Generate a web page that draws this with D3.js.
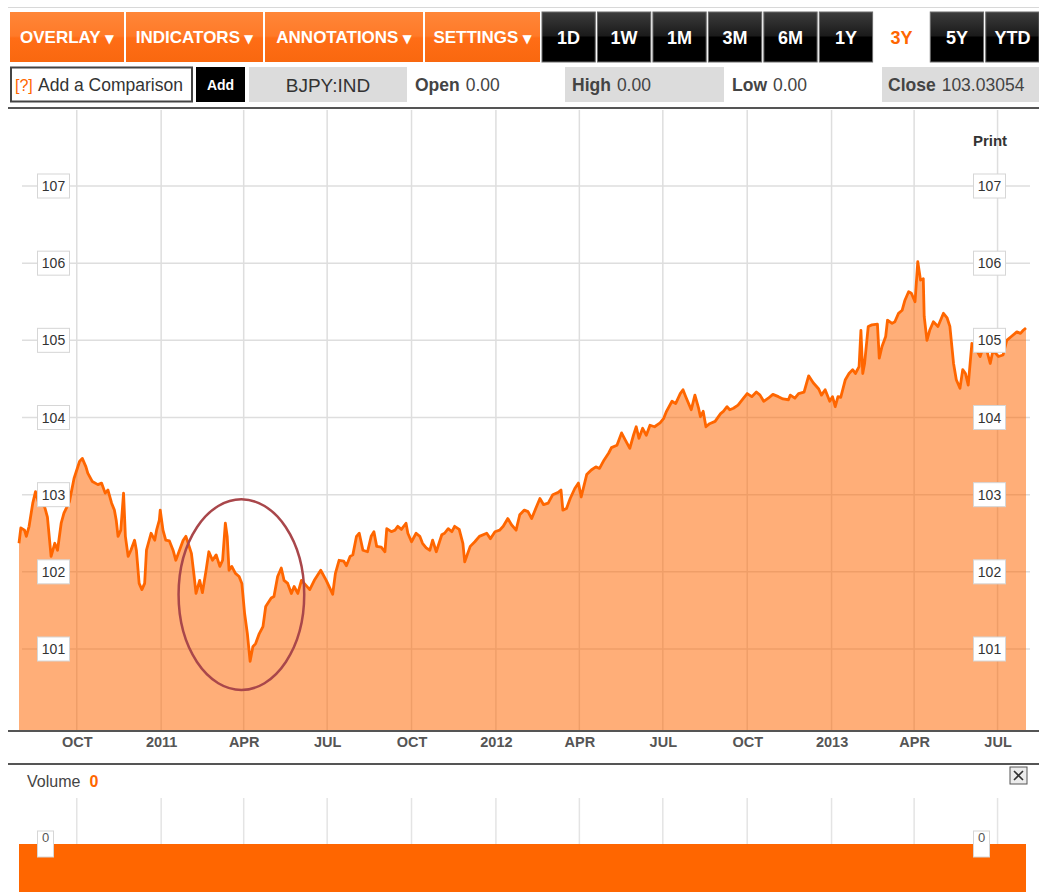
<!DOCTYPE html>
<html>
<head>
<meta charset="utf-8">
<script src="https://cdn.jsdelivr.net/npm/d3@7"></script>
<style>
body { margin: 0; background: #fff; }
svg { display: block; font-family: "Liberation Sans", Arial, sans-serif; }
</style>
</head>
<body>
<div id="chart"></div>
<script>
// BJPY:IND, 3 year view
var dates = [
  "2010-07-30","2010-08-01","2010-08-05","2010-08-07","2010-08-10","2010-08-14","2010-08-17","2010-08-20","2010-08-27","2010-08-30",
  "2010-09-03","2010-09-07","2010-09-10","2010-09-14","2010-09-17","2010-09-23","2010-09-28","2010-10-04","2010-10-07","2010-10-11",
  "2010-10-13","2010-10-18","2010-10-24","2010-10-28","2010-11-01","2010-11-04","2010-11-08","2010-11-11","2010-11-13","2010-11-15",
  "2010-11-18","2010-11-21","2010-11-23","2010-11-26","2010-11-29","2010-12-03","2010-12-05","2010-12-08","2010-12-11","2010-12-14",
  "2010-12-16","2010-12-21","2010-12-25","2010-12-27","2010-12-30","2010-12-31","2011-01-03","2011-01-06","2011-01-10","2011-01-14",
  "2011-01-17","2011-01-21","2011-01-25","2011-01-28","2011-02-03","2011-02-06","2011-02-08","2011-02-12","2011-02-15","2011-02-19",
  "2011-02-22","2011-02-26","2011-03-02","2011-03-06","2011-03-09","2011-03-12","2011-03-14","2011-03-16","2011-03-19","2011-03-23",
  "2011-03-27","2011-03-30","2011-04-02","2011-04-05","2011-04-08","2011-04-11","2011-04-14","2011-04-18","2011-04-22","2011-04-25",
  "2011-05-01","2011-05-04","2011-05-08","2011-05-12","2011-05-15","2011-05-19","2011-05-23","2011-05-26","2011-05-30","2011-06-03",
  "2011-06-06","2011-06-12","2011-06-17","2011-06-24","2011-06-30","2011-07-07","2011-07-10","2011-07-14","2011-07-19","2011-07-22",
  "2011-07-26","2011-07-29","2011-08-02","2011-08-05","2011-08-09","2011-08-14","2011-08-18","2011-08-21","2011-08-24","2011-08-29",
  "2011-09-02","2011-09-04","2011-09-09","2011-09-13","2011-09-16","2011-09-20","2011-09-25","2011-09-27","2011-10-01","2011-10-06",
  "2011-10-10","2011-10-13","2011-10-17","2011-10-21","2011-10-24","2011-10-28","2011-11-03","2011-11-06","2011-11-10","2011-11-14",
  "2011-11-17","2011-11-22","2011-11-26","2011-11-28","2011-12-04","2011-12-09","2011-12-14","2011-12-22","2011-12-26","2011-12-31",
  "2012-01-05","2012-01-09","2012-01-14","2012-01-18","2012-01-23","2012-01-27","2012-02-01","2012-02-05","2012-02-09","2012-02-12",
  "2012-02-18","2012-02-22","2012-02-27","2012-03-03","2012-03-09","2012-03-12","2012-03-14","2012-03-18","2012-03-22","2012-03-27",
  "2012-03-31","2012-04-03","2012-04-09","2012-04-14","2012-04-19","2012-04-23","2012-04-28","2012-05-03","2012-05-06","2012-05-12",
  "2012-05-17","2012-05-21","2012-05-26","2012-05-30","2012-06-02","2012-06-05","2012-06-09","2012-06-13","2012-06-17","2012-06-22",
  "2012-06-28","2012-07-02","2012-07-05","2012-07-11","2012-07-15","2012-07-20","2012-07-23","2012-07-26","2012-08-01","2012-08-05",
  "2012-08-09","2012-08-11","2012-08-14","2012-08-17","2012-08-21","2012-08-27","2012-09-02","2012-09-05","2012-09-09","2012-09-12",
  "2012-09-16","2012-09-21","2012-09-27","2012-10-01","2012-10-06","2012-10-11","2012-10-15","2012-10-19","2012-10-24","2012-10-29",
  "2012-11-04","2012-11-09","2012-11-15","2012-11-17","2012-11-22","2012-11-26","2012-12-02","2012-12-07","2012-12-12","2012-12-18",
  "2012-12-21","2012-12-25","2012-12-30","2013-01-02","2013-01-05","2013-01-08","2013-01-11","2013-01-16","2013-01-20","2013-01-24",
  "2013-01-27","2013-01-31","2013-02-02","2013-02-04","2013-02-06","2013-02-10","2013-02-14","2013-02-20","2013-02-22","2013-02-25",
  "2013-03-01","2013-03-03","2013-03-08","2013-03-11","2013-03-15","2013-03-19","2013-03-22","2013-03-26","2013-03-29","2013-04-02",
  "2013-04-05","2013-04-08","2013-04-11","2013-04-12","2013-04-15","2013-04-18","2013-04-22","2013-04-27","2013-05-03","2013-05-07",
  "2013-05-10","2013-05-14","2013-05-17","2013-05-21","2013-05-24","2013-05-27","2013-05-30","2013-06-03","2013-06-06","2013-06-12",
  "2013-06-17","2013-06-23","2013-06-26","2013-07-02","2013-07-07","2013-07-11","2013-07-16","2013-07-22","2013-07-26","2013-07-29",
  "2013-08-01"
];
var prices = [
  102.37,102.57,102.54,102.46,102.59,102.89,103.04,102.91,102.84,102.71,
  102.20,102.37,102.28,102.63,102.76,102.91,103.21,103.43,103.47,103.36,
  103.28,103.17,103.13,103.15,103.02,103.06,102.89,102.80,102.67,102.46,
  102.54,103.02,102.46,102.20,102.28,102.41,102.28,101.85,101.77,101.85,
  102.28,102.50,102.41,102.54,102.67,102.80,102.54,102.41,102.40,102.28,
  102.15,102.28,102.41,102.46,102.24,101.94,101.72,101.89,101.73,102.02,
  102.26,102.15,102.22,102.07,102.15,102.63,102.46,102.02,102.07,101.98,
  101.94,101.85,101.46,101.20,100.84,101.03,101.07,101.20,101.29,101.55,
  101.66,101.68,101.94,102.05,101.89,101.85,101.72,101.81,101.72,101.89,
  101.85,101.77,101.89,102.02,101.89,101.71,101.98,102.15,102.14,102.08,
  102.20,102.22,102.46,102.50,102.28,102.26,102.46,102.52,102.33,102.32,
  102.26,102.56,102.52,102.54,102.59,102.55,102.63,102.50,102.39,102.50,
  102.46,102.37,102.31,102.28,102.41,102.26,102.48,102.50,102.56,102.52,
  102.59,102.55,102.37,102.13,102.33,102.39,102.46,102.50,102.43,102.52,
  102.54,102.59,102.69,102.61,102.54,102.74,102.80,102.78,102.69,102.78,
  102.95,102.87,102.89,103.00,103.03,103.06,102.80,102.82,102.95,103.08,
  103.15,102.97,103.26,103.32,103.36,103.34,103.45,103.54,103.61,103.64,
  103.80,103.71,103.60,103.77,103.88,103.73,103.86,103.77,103.90,103.88,
  103.93,103.99,104.08,104.21,104.18,104.31,104.36,104.27,104.10,104.29,
  104.12,104.01,104.08,103.88,103.92,103.95,104.05,104.08,104.14,104.10,
  104.12,104.16,104.25,104.31,104.27,104.33,104.29,104.21,104.25,104.30,
  104.27,104.24,104.23,104.29,104.25,104.31,104.33,104.54,104.45,104.37,
  104.29,104.36,104.21,104.27,104.14,104.27,104.26,104.49,104.57,104.62,
  104.57,104.66,105.13,104.57,104.70,105.18,105.20,105.21,104.77,104.92,
  105.05,105.26,105.22,105.24,105.35,105.39,105.52,105.63,105.61,105.50,
  106.02,105.78,105.80,105.31,105.00,105.13,105.24,105.18,105.35,105.29,
  105.18,104.70,104.49,104.38,104.62,104.57,104.42,104.96,104.92,104.79,
  104.97,104.70,104.87,104.79,104.81,105.00,105.05,105.11,105.09,105.13,
  105.16
];
var priceTicks = [101, 102, 103, 104, 105, 106, 107];
var volumeDates = ["2010-07-30", "2013-08-01"];
var volumeValues = [0, 0];
var volumeTicks = [0];

var menus = ["OVERLAY", "INDICATORS", "ANNOTATIONS", "SETTINGS"];
var ranges = ["1D", "1W", "1M", "3M", "6M", "1Y", "3Y", "5Y", "YTD"];
var activeRange = "3Y";
var symbol = "BJPY:IND";
var quoteLabels = ["Open", "High", "Low", "Close"];
var quoteValues = ["0.00", "0.00", "0.00", "103.03054"];
var volumeLabel = "Volume";
var volumeNow = "0";

// hand drawn ring round the April 2011 dip
var ringDates = ["2011-01-20", "2011-06-06"];
var ringValues = [100.47, 102.94];

var W = 1039, H = 892;
var plotTop = 110, plotBottom = 730;
var volTop = 798, volBottom = 892;
var orange = "#ff6600";

var parse = d3.timeParse("%Y-%m-%d");
var series = dates.map(function (d, i) { return { date: parse(d), value: prices[i] }; });
var volSeries = volumeDates.map(function (d, i) { return { date: parse(d), value: volumeValues[i] }; });

var x = d3.scaleTime()
    .domain([parse(dates[0]), parse(dates[dates.length - 1])])
    .range([19, 1026]);
var y = d3.scaleLinear()
    .domain([101, 107])
    .range([649, 186]);
var vy = d3.scaleLinear()
    .domain([0, 1])
    .range([844, 810]);

var svg = d3.select("#chart").append("svg")
    .attr("width", W)
    .attr("height", H);

var defs = svg.append("defs");
var og = defs.append("linearGradient").attr("id", "orangeBtn").attr("x1", 0).attr("y1", 0).attr("x2", 0).attr("y2", 1);
og.append("stop").attr("offset", "0%").attr("stop-color", "#ff8638");
og.append("stop").attr("offset", "48%").attr("stop-color", "#ff7a28");
og.append("stop").attr("offset", "52%").attr("stop-color", "#ff6d16");
og.append("stop").attr("offset", "100%").attr("stop-color", "#f9680f");
var bg = defs.append("linearGradient").attr("id", "blackBtn").attr("x1", 0).attr("y1", 0).attr("x2", 0).attr("y2", 1);
bg.append("stop").attr("offset", "0%").attr("stop-color", "#3c3c3c");
bg.append("stop").attr("offset", "48%").attr("stop-color", "#1a1a1a");
bg.append("stop").attr("offset", "50%").attr("stop-color", "#000");
bg.append("stop").attr("offset", "100%").attr("stop-color", "#000");

// top rule
svg.append("line")
    .attr("x1", 8).attr("x2", W).attr("y1", 7.5).attr("y2", 7.5)
    .attr("stroke", "#d8d8d8").attr("stroke-width", 1);

// toolbar: menu buttons
var menuX = [10, 126, 265, 425];
var menuW = [114, 137, 158, 115];
var mg = svg.append("g").selectAll("g")
    .data(menus)
    .join("g")
    .attr("transform", function (d, i) { return "translate(" + menuX[i] + ",12)"; });
mg.append("rect")
    .attr("width", function (d, i) { return menuW[i]; })
    .attr("height", 50)
    .attr("fill", "url(#orangeBtn)");
mg.append("text")
    .attr("x", function (d, i) { return menuW[i] / 2; })
    .attr("y", 31)
    .attr("text-anchor", "middle")
    .attr("fill", "#fff")
    .attr("font-weight", "bold")
    .style("font-size", "17px")
    .text(function (d) { return d; })
    .append("tspan")
    .attr("dx", 4)
    .style("font-family", "'DejaVu Sans', sans-serif")
    .style("font-size", "12px")
    .text("\u25BC");

// toolbar: range buttons
var rangeX = d3.scaleBand().domain(ranges).range([542, 1039]).paddingInner(0.04);
var rg = svg.append("g").selectAll("g")
    .data(ranges)
    .join("g")
    .attr("transform", function (d) { return "translate(" + rangeX(d) + ",12)"; });
rg.append("rect")
    .attr("width", rangeX.bandwidth())
    .attr("height", 50)
    .attr("fill", function (d) { return d == activeRange ? "#fff" : "url(#blackBtn)"; })
    .attr("stroke", function (d) { return d == activeRange ? "none" : "#6a6a6a"; })
    .attr("stroke-width", 1);
rg.append("text")
    .attr("x", rangeX.bandwidth() / 2)
    .attr("y", 31.5)
    .attr("text-anchor", "middle")
    .attr("fill", function (d) { return d == activeRange ? orange : "#fff"; })
    .attr("font-weight", "bold")
    .style("font-size", "18px")
    .text(function (d) { return d; });

// second row: comparison box, symbol and quote
var row = svg.append("g").attr("transform", "translate(0,67)");
row.append("rect")
    .attr("x", 11).attr("y", 0.5).attr("width", 181).attr("height", 34)
    .attr("fill", "#fff").attr("stroke", "#444").attr("stroke-width", 2);
row.append("text")
    .attr("x", 15).attr("y", 24)
    .attr("fill", orange)
    .style("font-size", "16px")
    .text("[?]");
row.append("text")
    .attr("x", 38).attr("y", 24)
    .attr("fill", "#333")
    .style("font-size", "17.5px")
    .text("Add a Comparison");
row.append("rect")
    .attr("x", 196).attr("y", 0).attr("width", 49).attr("height", 35)
    .attr("fill", "#000");
row.append("text")
    .attr("x", 220.5).attr("y", 23)
    .attr("text-anchor", "middle")
    .attr("fill", "#fff")
    .attr("font-weight", "bold")
    .style("font-size", "14px")
    .text("Add");
row.append("rect")
    .attr("x", 249).attr("y", 0).attr("width", 158).attr("height", 35)
    .attr("fill", "#dcdcdc");
row.append("text")
    .attr("x", 328).attr("y", 25)
    .attr("text-anchor", "middle")
    .attr("fill", "#333")
    .style("font-size", "19px")
    .text(symbol);

var quoteX = [415, 572, 732, 888];
var quoteBox = [null, [565, 159], null, [882, 157]];
quoteLabels.forEach(function (lab, i) {
    if (quoteBox[i]) {
        row.append("rect")
            .attr("x", quoteBox[i][0]).attr("y", 0)
            .attr("width", quoteBox[i][1]).attr("height", 35)
            .attr("fill", "#dcdcdc");
    }
    var t = row.append("text")
        .attr("x", quoteX[i]).attr("y", 24)
        .attr("fill", "#444")
        .style("font-size", "17.5px");
    t.append("tspan").attr("font-weight", "bold").text(lab);
    t.append("tspan").attr("dx", 6).text(quoteValues[i]);
});

svg.append("line")
    .attr("x1", 8).attr("x2", W).attr("y1", 108).attr("y2", 108)
    .attr("stroke", "#555").attr("stroke-width", 2);

// price panel
var monthTicks = x.ticks(d3.timeMonth.every(3));
var grid = svg.append("g");
grid.selectAll(".vgrid")
    .data(monthTicks)
    .join("line")
    .attr("class", "vgrid")
    .attr("x1", function (d) { return x(d); })
    .attr("x2", function (d) { return x(d); })
    .attr("y1", plotTop)
    .attr("y2", plotBottom)
    .attr("stroke", "#dedede")
    .attr("stroke-width", 1.5);
grid.selectAll(".hgrid")
    .data(priceTicks)
    .join("line")
    .attr("class", "hgrid")
    .attr("x1", 22)
    .attr("x2", 1030)
    .attr("y1", function (d) { return y(d); })
    .attr("y2", function (d) { return y(d); })
    .attr("stroke", "#dedede")
    .attr("stroke-width", 1.5);

var area = d3.area()
    .x(function (d) { return x(d.date); })
    .y0(plotBottom)
    .y1(function (d) { return y(d.value); });
var line = d3.line()
    .x(function (d) { return x(d.date); })
    .y(function (d) { return y(d.value); });

svg.append("path")
    .datum(series)
    .attr("d", area)
    .attr("fill", orange)
    .attr("fill-opacity", 0.53);
svg.append("path")
    .datum(series)
    .attr("d", line)
    .attr("fill", "none")
    .attr("stroke", orange)
    .attr("stroke-width", 2.8)
    .attr("stroke-linejoin", "round");

// ring annotation
svg.append("ellipse")
    .attr("cx", (x(parse(ringDates[0])) + x(parse(ringDates[1]))) / 2)
    .attr("cy", (y(ringValues[0]) + y(ringValues[1])) / 2)
    .attr("rx", (x(parse(ringDates[1])) - x(parse(ringDates[0]))) / 2)
    .attr("ry", (y(ringValues[0]) - y(ringValues[1])) / 2)
    .attr("fill", "none")
    .attr("stroke", "#a9474b")
    .attr("stroke-width", 2.5);

// price labels, both sides
function labelBoxes(g, ticks, scale, left, width) {
    var lb = g.selectAll("g")
        .data(ticks)
        .join("g")
        .attr("transform", function (d) { return "translate(" + left + "," + scale(d) + ")"; });
    lb.append("rect")
        .attr("x", 0).attr("y", -12)
        .attr("width", width).attr("height", 24)
        .attr("fill", "#fff")
        .attr("stroke", "#d6d6d6")
        .attr("stroke-width", 1);
    lb.append("text")
        .attr("x", width / 2).attr("y", 5)
        .attr("text-anchor", "middle")
        .attr("fill", "#333")
        .style("font-size", "14px")
        .text(function (d) { return d; });
}
labelBoxes(svg.append("g"), priceTicks, y, 37.5, 32);
labelBoxes(svg.append("g"), priceTicks, y, 973.5, 32);

svg.append("text")
    .attr("x", 990).attr("y", 146)
    .attr("text-anchor", "middle")
    .attr("fill", "#333")
    .attr("font-weight", "bold")
    .style("font-size", "15px")
    .text("Print");

// time axis
svg.append("line")
    .attr("x1", 8).attr("x2", W).attr("y1", 731).attr("y2", 731)
    .attr("stroke", "#555").attr("stroke-width", 2);
svg.append("line")
    .attr("x1", 8).attr("x2", W).attr("y1", 764).attr("y2", 764)
    .attr("stroke", "#555").attr("stroke-width", 2);
var fmt = function (d) {
    return d.getMonth() == 0 ? d3.timeFormat("%Y")(d) : d3.timeFormat("%b")(d).toUpperCase();
};
var xAxis = svg.append("g")
    .attr("transform", "translate(0,731)")
    .call(d3.axisBottom(x).tickValues(monthTicks).tickFormat(fmt).tickSize(0).tickPadding(6));
xAxis.select(".domain").remove();
xAxis.selectAll("text")
    .attr("fill", "#555")
    .attr("font-weight", "bold")
    .style("font-family", "'Liberation Sans', Arial, sans-serif")
    .style("font-size", "14.5px");

// volume panel
var vt = svg.append("text")
    .attr("x", 27).attr("y", 787)
    .attr("fill", "#444")
    .style("font-size", "16px")
    .text(volumeLabel);
vt.append("tspan")
    .attr("dx", 9)
    .attr("fill", orange)
    .attr("font-weight", "bold")
    .text(volumeNow);

var closeBtn = svg.append("g").attr("transform", "translate(1010,767)");
closeBtn.append("rect")
    .attr("width", 17).attr("height", 17)
    .attr("fill", "#ececec").attr("stroke", "#555").attr("stroke-width", 1);
closeBtn.append("path")
    .attr("d", "M4,4L13,13M13,4L4,13")
    .attr("stroke", "#333").attr("stroke-width", 1.6);

svg.append("g").selectAll("line")
    .data(monthTicks)
    .join("line")
    .attr("x1", function (d) { return x(d); })
    .attr("x2", function (d) { return x(d); })
    .attr("y1", volTop)
    .attr("y2", vy(0))
    .attr("stroke", "#e4e4e4")
    .attr("stroke-width", 1.5);

var volArea = d3.area()
    .x(function (d) { return x(d.date); })
    .y0(volBottom)
    .y1(function (d) { return vy(d.value); });
svg.append("path")
    .datum(volSeries)
    .attr("d", volArea)
    .attr("fill", orange);

function volBoxes(left) {
    var vb = svg.append("g").selectAll("g")
        .data(volumeTicks)
        .join("g")
        .attr("transform", function (d) { return "translate(" + left + "," + vy(d) + ")"; });
    vb.append("rect")
        .attr("x", 0).attr("y", -13)
        .attr("width", 16).attr("height", 26)
        .attr("fill", "#fff")
        .attr("stroke", "#d6d6d6");
    vb.append("text")
        .attr("x", 8).attr("y", -2)
        .attr("text-anchor", "middle")
        .attr("fill", "#555")
        .style("font-size", "13px")
        .text(function (d) { return d; });
}
volBoxes(37.5);
volBoxes(973.5);
</script>
</body>
</html>
